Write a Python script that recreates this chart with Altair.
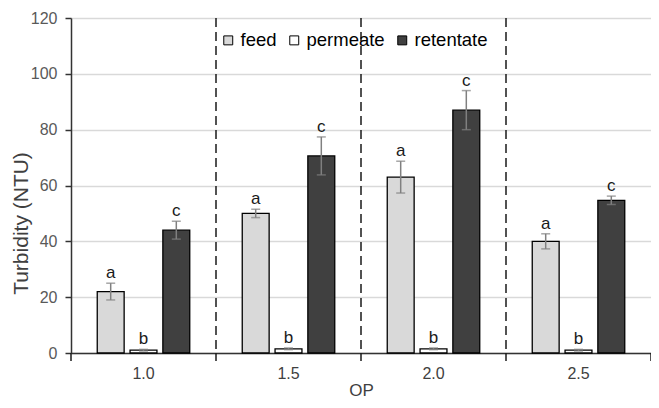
import altair as alt
import pandas as pd

ops = ["1.0", "1.5", "2.0", "2.5"]
series = ["feed", "permeate", "retentate"]
colors = ["#d9d9d9", "#ffffff", "#404040"]

feed = [22.0, 50.0, 63.0, 40.0]
feed_err = [3.0, 1.5, 5.7, 2.7]
permeate = [1.0, 1.5, 1.5, 1.0]
permeate_err = [0.3, 0.3, 0.3, 0.3]
retentate = [44.0, 70.6, 87.0, 54.7]
retentate_err = [3.2, 6.8, 7.0, 1.5]
letters = ["a", "b", "c"]

rows = []
for i, op in enumerate(ops):
    for s, vals, errs, let in zip(series, [feed, permeate, retentate],
                                  [feed_err, permeate_err, retentate_err], letters):
        v, e = vals[i], errs[i]
        rows.append(dict(op=op, series=s, value=v, lo=v - e, hi=v + e, letter=let))
df = pd.DataFrame(rows)
bounds = pd.DataFrame({"op": ops})

W, H = 580, 335
FONT = "Liberation Sans"

xscale = alt.Scale(domain=ops, paddingInner=0, paddingOuter=0)
xaxis = alt.Axis(title="OP", labelAngle=0, ticks=False, labelPadding=12,
                 labelFontSize=16, labelColor="#404040", labelFont=FONT,
                 titleFont=FONT, titleFontSize=17, titleFontWeight="normal",
                 titleColor="#404040", titlePadding=1,
                 domainColor="#333333", domainWidth=1.5)
x = alt.X("op:N", scale=xscale, axis=xaxis)
xo = alt.XOffset("series:N", scale=alt.Scale(domain=series, paddingInner=0.18, paddingOuter=0.8))
yscale = alt.Scale(domain=[0, 120])
yaxis = alt.Axis(title="Turbidity  (NTU)", values=[0, 20, 40, 60, 80, 100, 120],
                 tickSize=6, tickColor="#333333", tickWidth=1.5,
                 domainColor="#333333", domainWidth=1.5,
                 labelFontSize=16, labelColor="#595959", labelFont=FONT, labelPadding=8,
                 titleFont=FONT, titleFontSize=21, titleFontWeight="normal",
                 titleColor="#404040", titlePadding=-1, titleY=205,
                 gridColor="#d9d9d9", gridWidth=1.5)

bars = alt.Chart(df).mark_bar(stroke="black", strokeWidth=1.3).encode(
    x=x, xOffset=xo,
    y=alt.Y("value:Q", scale=yscale, axis=yaxis),
    color=alt.Color("series:N", scale=alt.Scale(domain=series, range=colors),
                    legend=alt.Legend(title=None, orient="none", direction="horizontal",
                                      legendX=148, legendY=13, symbolType="square",
                                      symbolSize=80, symbolStrokeColor="black",
                                      symbolStrokeWidth=1, labelFontSize=18.5,
                                      labelFont=FONT, labelColor="#000000",
                                      labelOffset=3, columnPadding=8)),
)

err = alt.Chart(df).mark_rule(color="#808080", strokeWidth=1.5).encode(
    x=x, xOffset=xo, y=alt.Y("lo:Q", scale=yscale), y2="hi:Q")
cap_hi = alt.Chart(df).mark_tick(color="#808080", thickness=1.5, size=9, orient="horizontal").encode(
    x=x, xOffset=xo, y=alt.Y("hi:Q", scale=yscale))
cap_lo = alt.Chart(df).mark_tick(color="#808080", thickness=1.5, size=9, orient="horizontal").encode(
    x=x, xOffset=xo, y=alt.Y("lo:Q", scale=yscale))

labels = alt.Chart(df).mark_text(font=FONT, fontSize=17, color="#1a1a1a", dy=-5,
                                 baseline="alphabetic").encode(
    x=x, xOffset=xo, y=alt.Y("hi:Q", scale=yscale), text="letter:N")

dashes = alt.Chart(bounds).transform_filter(alt.datum.op != ops[0]).mark_rule(
    color="#1a1a1a", strokeWidth=1.5, strokeDash=[9, 5]).encode(
    x=alt.X("op:N", scale=xscale, bandPosition=0),
    y=alt.value(0), y2=alt.value(H))

ticks = alt.Chart(bounds).mark_rule(color="#1a1a1a", strokeWidth=1.5).encode(
    x=alt.X("op:N", scale=xscale, bandPosition=0),
    y=alt.value(H), y2=alt.value(H + 8))
tick_end = alt.Chart(bounds).transform_filter(alt.datum.op == ops[-1]).mark_rule(
    color="#1a1a1a", strokeWidth=1.5).encode(
    x=alt.X("op:N", scale=xscale, bandPosition=1),
    y=alt.value(H), y2=alt.value(H + 8))

chart = alt.layer(bars, dashes, ticks, tick_end, err, cap_hi, cap_lo, labels).properties(
    width=W, height=H,
    autosize=alt.AutoSizeParams(type="none"),
    padding={"left": 63, "top": 10, "right": 0, "bottom": 47},
).configure_view(stroke=None).configure(background="white")

chart.save("out.html", embed_options={"renderer": "svg", "actions": False})
